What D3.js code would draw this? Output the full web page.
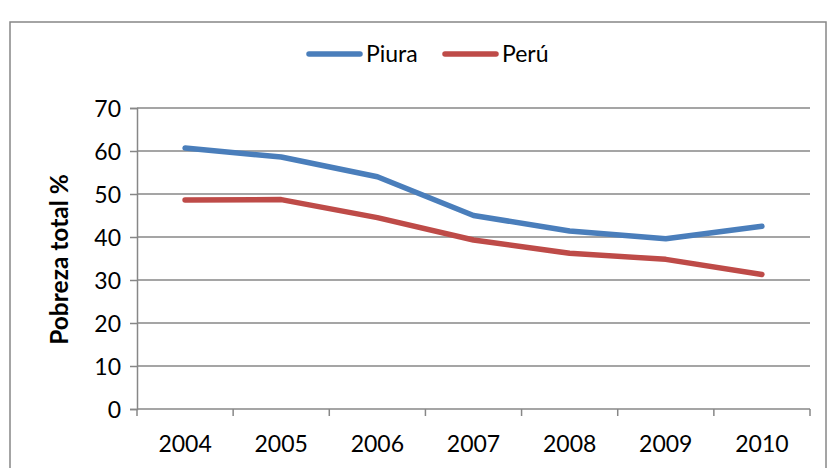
<!DOCTYPE html>
<html><head><meta charset="utf-8">
<script src="https://cdn.jsdelivr.net/npm/d3@7"></script>
<style>body{margin:0;background:#fff}svg{display:block}text{font-family:Lato,"Open Sans",sans-serif;fill:#000}</style>
</head><body><svg id="c" width="828" height="468"></svg>
<script>
const years = ["2004","2005","2006","2007","2008","2009","2010"];
const piura = [60.7, 58.6, 54.0, 45.0, 41.4, 39.6, 42.5];
const peru = [48.6, 48.7, 44.5, 39.3, 36.2, 34.8, 31.3];
const yTicks = [0,10,20,30,40,50,60,70];
const seriesNames = ["Piura","Perú"];
const colors = ["#4A7EBB","#BE4B48"];

(function(){
const svg = d3.select("#c");
const grey = "#878787";
const fs = 23;
svg.append("rect").attr("x",10).attr("y",22).attr("width",816).attr("height",470)
  .attr("fill","none").attr("stroke",grey).attr("stroke-width",1.5);

const pl=137, pr=810, pt=108, pb=409;
const x = d3.scaleBand().domain(years).range([pl,pr]);
const y = d3.scaleLinear().domain([0,70]).range([pb,pt]);

// gridlines
svg.append("g").selectAll("line").data(yTicks.filter(d=>d>0)).join("line")
  .attr("x1",pl).attr("x2",pr).attr("y1",d=>y(d)).attr("y2",d=>y(d))
  .attr("stroke",grey).attr("stroke-width",1.5);

// y axis
const ya = svg.append("g").attr("transform",`translate(${pl},0)`)
  .call(d3.axisLeft(y).tickValues(yTicks).tickSize(7).tickPadding(9));
ya.select(".domain").attr("stroke",grey).attr("stroke-width",1.5);
ya.selectAll(".tick line").attr("stroke",grey).attr("stroke-width",1.5);
ya.selectAll("text").attr("font-size",fs).attr("dy","0.36em").style("font-family","Lato");

// x axis
const xa = svg.append("g").attr("transform",`translate(0,${pb})`)
  .call(d3.axisBottom(x).tickSize(0));
xa.select(".domain").remove();
xa.append("line").attr("x1",pl).attr("x2",pr).attr("stroke",grey).attr("stroke-width",1.5);
xa.selectAll(".tb").data(d3.range(years.length+1)).join("line").attr("class","tb")
  .attr("x1",i=>pl+i*x.step()).attr("x2",i=>pl+i*x.step()).attr("y1",0).attr("y2",7)
  .attr("stroke",grey).attr("stroke-width",1.5);
xa.selectAll(".tick text").attr("font-size",fs).attr("y",43).attr("dy",0).style("font-family","Lato");

// y title
svg.append("text").attr("transform",`translate(68,${(pt+pb)/2+1}) rotate(-90)`)
  .attr("text-anchor","middle").attr("font-size",24.5).attr("font-weight","bold")
  .style("font-family","Lato").text("Pobreza total %");

// lines
const line = d3.line().x((d,i)=>x(years[i])+x.bandwidth()/2).y(d=>y(d));
[piura,peru].forEach((s,k)=>{
  svg.append("path").datum(s).attr("d",line).attr("fill","none")
    .attr("stroke",colors[k]).attr("stroke-width",5.5).attr("stroke-linecap","round").attr("stroke-linejoin","round");
});

// legend
const lg = svg.append("g");
const lx = [309, 445];
seriesNames.forEach((n,k)=>{
  lg.append("line").attr("x1",lx[k]).attr("x2",lx[k]+51).attr("y1",54).attr("y2",54)
    .attr("stroke",colors[k]).attr("stroke-width",5.5).attr("stroke-linecap","round");
  lg.append("text").attr("x",lx[k]+57).attr("y",62).attr("font-size",fs).style("font-family","Lato").text(n);
});
})();
</script></body></html>
